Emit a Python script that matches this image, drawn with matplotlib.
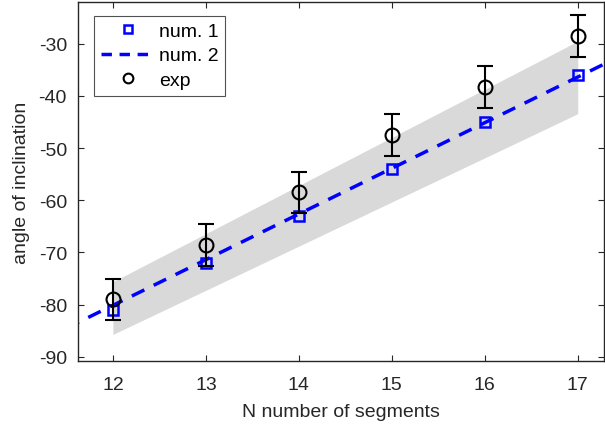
import matplotlib
matplotlib.use("Agg")
import matplotlib.pyplot as plt
from matplotlib.lines import Line2D

# ── Dados ──────────────────────────────────────────────
n_seg = [12, 13, 14, 15, 16, 17]
num1 = [-81, -72, -63, -54, -45, -36]
num2_x = [11.5, 17.5]
num2_y = [-84.5, -32.0]
exp_y = [-79.0, -68.5, -58.5, -47.5, -38.3, -28.5]
exp_err = [4, 4, 4, 4, 4, 4]
band_x = [12, 17]
band_hi = [-75.6, -29.5]
band_lo = [-85.7, -43.4]

plt.rcParams["font.family"] = ["Liberation Sans", "DejaVu Sans"]
plt.rcParams["axes.unicode_minus"] = False
cinza = "#262626"

fig = plt.figure(figsize=(6.05, 4.31), dpi=100)
ax = fig.add_axes([0.129, 0.160, 0.869, 0.833])

ax.fill_between(band_x, band_lo, band_hi, color="#d9d9d9", lw=0, zorder=1)
ax.plot(n_seg, num1, "s", ms=7, mfc="none", mec="blue", mew=1.8, zorder=3)
ax.plot(num2_x, num2_y, "--", color="blue", lw=2.5, dashes=(4, 3), zorder=2)
ax.errorbar(n_seg, exp_y, yerr=exp_err, fmt="o", ms=10, mfc="none",
            mec="black", mew=1.5, ecolor="black", elinewidth=1.5,
            capsize=6, capthick=1.5, zorder=4)

ax.set_xlim(11.625, 17.28)
ax.set_ylim(-90.8, -22)
ax.set_xticks(n_seg)
ax.set_yticks(range(-90, -29, 10))
ax.tick_params(direction="in", top=True, right=True, labelsize=14,
               colors=cinza, length=4, pad=8)
ax.tick_params(axis="x", pad=11)
for s in ax.spines.values():
    s.set_color(cinza)
    s.set_linewidth(1.0)

ax.set_xlabel("N number of segments", fontsize=14, color=cinza, labelpad=7)
ax.set_ylabel("angle of inclination", fontsize=14, color=cinza, labelpad=6)

# Legenda com marcadores simples (sem barras de erro)
handles = [
    Line2D([], [], ls="none", marker="s", ms=6, mfc="none", mec="blue", mew=1.8),
    Line2D([], [], ls="--", color="blue", lw=2.5, dashes=(3, 2.2)),
    Line2D([], [], ls="none", marker="o", ms=7, mfc="none", mec="black", mew=1.5),
]
leg = ax.legend(handles, ["num. 1", "num. 2", "exp"], loc="upper left",
                bbox_to_anchor=(0.03, 0.962), fontsize=14, frameon=True,
                fancybox=False, edgecolor=cinza, handlelength=2.8,
                borderpad=0.35, labelspacing=0.35, handletextpad=0.2,
                borderaxespad=0)
leg.get_frame().set_linewidth(0.8)

fig.savefig("out.png", dpi=100)
